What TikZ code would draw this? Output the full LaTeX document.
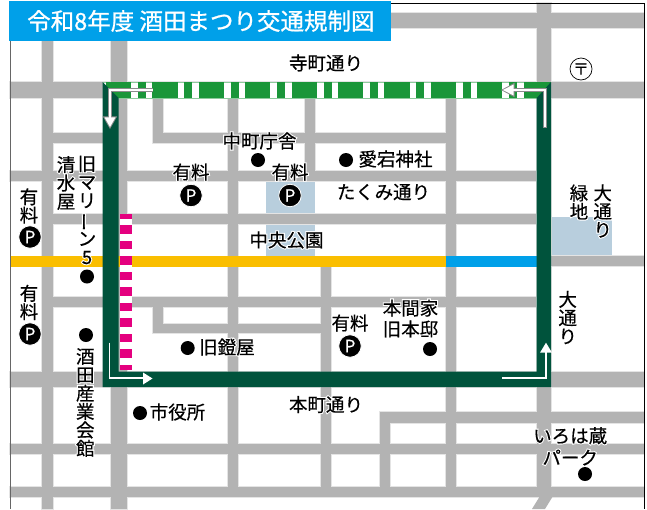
\documentclass[tikz,border=0pt]{standalone}
\usepackage{fontspec}
\setmainfont[FakeBold=0.4]{Noto Sans CJK JP}
\newfontfamily\jph[FakeBold=12]{Noto Sans CJK JP}
\newfontfamily\titlef[FakeBold=0.8]{Noto Sans CJK JP}
\newcommand\hl[1]{\leavevmode\rlap{\jph\color{white}#1}#1}
\definecolor{roadc}{HTML}{B3B3B3}
\definecolor{roade}{HTML}{E4E4E4}
\definecolor{dark}{HTML}{00533C}
\definecolor{mgreen}{HTML}{1A9639}
\definecolor{titleb}{HTML}{00A0E9}
\definecolor{yell}{HTML}{FABE00}
\definecolor{magen}{HTML}{E4007F}
\definecolor{park}{HTML}{B8CEDD}
\tikzset{
  lab/.style={inner sep=0pt,align=center,font=\fontsize{18.5}{18.4}\selectfont},
  dotn/.style={circle,fill=black,inner sep=0pt,minimum size=14pt},
  pk/.style={circle,fill=black,draw=white,line width=0.8pt,inner sep=0pt,minimum size=22.5pt,text=white,font=\fontsize{17}{17}\selectfont},
  arw/.style={line width=2.4pt,white},
  arwo/.style={line width=4pt,color=gray!90},
}
\begin{document}
\begin{tikzpicture}[x=1pt,y=-1pt]
\useasboundingbox (0,0) rectangle (647,509);
\fill[white] (0,0) rectangle (647,509);
% park areas
\fill[park] (266,181) rectangle (315,256);
\fill[park] (551,217) rectangle (612,256);
% roads
\foreach \pass/\gr/\col in {1/0.7/roade,2/0/roadc}{
  \foreach \a/\b/\c/\d in {
    391/13/644/28, 10/82/644/98, 42/133/127/143, 153/133/446/143,
    10/171/536/181, 42/214/536/224, 551/256/644/266, 42/297/536/307,
    153/324/321/333, 10/372/644/387, 380/412/644/423, 10/444/644/454, 10/487/644/497,
    42/41/53/509, 111/41/127/509, 153/98/163/143, 153/307/163/333,
    228/98/238/497, 305/98/315/181, 321/266/331/497, 446/98/456/497,
    537/3/551/497, 380/412/390/497}{
    \fill[\col] ({\a-\gr},{\b-\gr}) rectangle ({\c+\gr},{\d+\gr});
  }
}
\fill[roadc] (540,496) -- (553,496) -- (545,509) -- (532,509) -- cycle;
% coloured road sections
\fill[yell] (10,256) rectangle (446,267);
\fill[titleb] (446,256) rectangle (537,267);
% green dashed street
\fill[white] (103,82) rectangle (551,98);
\draw[mgreen!50,line width=0.4pt] (103,82.2) -- (551,82.2) (103,97.8) -- (551,97.8);
\fill[mgreen] (105.7,82) rectangle (131,98);
\fill[mgreen] (137.7,82) rectangle (145.7,98);
\foreach \k in {0,...,7}{
  \fill[mgreen] ({152.3+46.4*\k},82) rectangle ({177.6+46.4*\k},98);
  \fill[mgreen] ({184.3+46.4*\k},82) rectangle ({192.3+46.4*\k},98);
}
\fill[mgreen] (524,82) rectangle (551,98);
% magenta section
\fill[white] (119.7,214) rectangle (131.7,370);
\fill[magen] (119.7,214) rectangle (131.7,218.7);
\foreach \k in {0,...,8}{
  \fill[magen] (119.7,{225+15.5*\k}) rectangle (131.7,{233.8+15.5*\k});
}
\fill[magen] (119.7,364.8) rectangle (131.7,370);
% dark green route
\fill[dark] (102.5,82) -- (118.7,98) -- (118.7,371.5) -- (536.7,371.5) -- (536.7,98) -- (551,82) -- (551,387) -- (102.5,387) -- cycle;
% arrows with outline
\draw[arwo] (153,90) -- (110,90) -- (110,118);
\fill[gray!90] (102.8,116.3) -- (117.2,116.3) -- (110,129) -- cycle;
\draw[arw] (152.5,90) -- (110,90) -- (110,118);
\fill[white] (104.5,117.3) -- (115.5,117.3) -- (110,127) -- cycle;
\draw[arwo] (545,127.5) -- (545,90) -- (513,90);
\fill[gray!90] (514.5,82.8) -- (514.5,97.2) -- (501,90) -- cycle;
\draw[arw] (545,127) -- (545,90) -- (513,90);
\fill[white] (513.5,84.5) -- (513.5,95.5) -- (503,90) -- cycle;
% plain white arrows
\draw[white,line width=1.8pt] (109.5,342.7) -- (109.5,378) -- (144,378);
\fill[white] (143,372.5) -- (143,384.5) -- (152.5,378.5) -- cycle;
\draw[white,line width=1.8pt] (502,378) -- (546,378) -- (546,352);
\fill[white] (540,352.7) -- (552,352.7) -- (546,342.7) -- cycle;
% frame
\draw[black,line width=1pt] (391,3.5) -- (644,3.5) -- (644,509);
\draw[black!60,line width=1pt] (10,41) -- (10,509);
% title
\fill[titleb] (9,1) rectangle (391,41);
\node[anchor=west,inner sep=0pt,text=white,font=\fontsize{23.5}{23.5}\titlef] (title) at (27,21) {令和8年度 酒田まつり交通規制図};
% labels
\node[lab] (teramachi) at (326,63) {\hl{寺町通り}};
\node[lab] (nakacho) at (259.5,141) {\hl{中町庁舎}};
\node[dotn] (d1) at (258,160) {};
\node[dotn] (d2) at (346,160) {};
\node[lab] (atago) at (395.5,159) {\hl{愛宕神社}};
\node[lab] (takumi) at (383.5,192) {\hl{たくみ通り}};
\node[lab] (y1) at (191,172) {\hl{有料}};
\node[pk] (p1) at (191,195.5) {P};
\node[lab] (y2) at (290,172) {\hl{有料}};
\node[pk] (p2) at (290,195.5) {P};
\node[lab] (chuo) at (286.5,240) {\hl{中央公園}};
\node[lab] (shimizu) at (66,183) {\hl{清}\\\hl{水}\\\hl{屋}};
\node[lab] (marine) at (87,210) {\hl{旧}\\\hl{マ}\\\hl{リ}\\\rotatebox[origin=c]{90}{\hl{ー}}\\\hl{ン}\\\hl{5}};
\node[dotn] (d3) at (87,276.5) {};
\node[lab] (y3) at (29,206) {\hl{有}\\\hl{料}};
\node[pk] (p3) at (30,237) {P};
\node[lab] (y4) at (29,302.5) {\hl{有}\\\hl{料}};
\node[pk] (p4) at (30,334) {P};
\node[dotn] (d4) at (86,335) {};
\node[lab] (sangyo) at (85.3,402.5) {\hl{酒}\\\hl{田}\\\hl{産}\\\hl{業}\\\hl{会}\\\hl{館}};
\node[dotn] (d5) at (187.7,348) {};
\node[lab] (abumi) at (227,347) {\hl{旧鐙屋}};
\node[dotn] (d6) at (140,413) {};
\node[lab] (shiyaku) at (177.5,412) {\hl{市役所}};
\node[lab] (honcho) at (326,404.5) {\hl{本町通り}};
\node[lab] (y5) at (350,323) {\hl{有料}};
\node[pk] (p5) at (350,346) {P};
\node[lab] (homma) at (410.5,318.5) {\hl{本間家}\\[2.5pt]\hl{旧本邸}};
\node[dotn] (d7) at (430,349) {};
\node[lab] (odori1) at (567.7,317.5) {\hl{大}\\\hl{通}\\\hl{り}};
\node[lab] (ryokuchi) at (579,202) {\hl{緑}\\\hl{地}};
\node[lab] (odori2) at (602.7,211) {\hl{大}\\\hl{通}\\\hl{り}};
\node[lab,anchor=north west] (iroha) at (533,427) {\hl{いろは蔵}\\[3.5pt]\hl{パーク}};
\node[dotn] (d8) at (585,474) {};
\node[circle,draw=black,line width=0.7pt,minimum size=22pt,inner sep=0pt,font=\fontsize{16}{16}\selectfont] (post) at (581,69) {〒};
\end{tikzpicture}
\end{document}
